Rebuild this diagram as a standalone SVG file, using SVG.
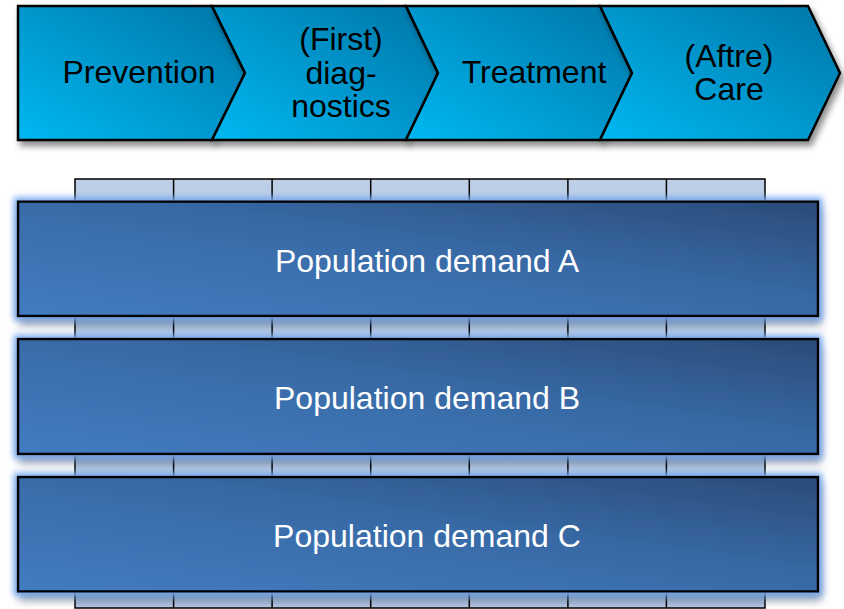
<svg xmlns="http://www.w3.org/2000/svg" width="844" height="609" viewBox="0 0 844 609">
  <defs>
    <linearGradient id="chevFill" x1="0" y1="1" x2="1" y2="0">
      <stop offset="0" stop-color="#00b8f2"/>
      <stop offset="1" stop-color="#0075a6"/>
    </linearGradient>
    <linearGradient id="barFill" x1="0" y1="1" x2="1" y2="0">
      <stop offset="0" stop-color="#437cc1"/>
      <stop offset="0.55" stop-color="#386aa6"/>
      <stop offset="1" stop-color="#2a4b79"/>
    </linearGradient>
    <linearGradient id="tabFill" x1="0" y1="0" x2="0" y2="1">
      <stop offset="0" stop-color="#bccfe6"/>
      <stop offset="1" stop-color="#b3c8e2"/>
    </linearGradient>
    <filter id="chevShadow" x="-10%" y="-10%" width="125%" height="130%">
      <feGaussianBlur in="SourceAlpha" stdDeviation="3"/>
      <feOffset dx="3" dy="5" result="ob"/>
      <feFlood flood-color="#000" flood-opacity="0.45"/>
      <feComposite in2="ob" operator="in" result="shadow"/>
      <feMerge>
        <feMergeNode in="shadow"/>
        <feMergeNode in="SourceGraphic"/>
      </feMerge>
    </filter>
    <filter id="barEffect" x="-5%" y="-25%" width="110%" height="160%">
      <feGaussianBlur in="SourceAlpha" stdDeviation="4"/>
      <feOffset dx="2" dy="7" result="ob"/>
      <feFlood flood-color="#1a2a40" flood-opacity="0.6"/>
      <feComposite in2="ob" operator="in" result="shadow"/>
      <feMorphology in="SourceAlpha" operator="dilate" radius="3" result="dil"/>
      <feGaussianBlur in="dil" stdDeviation="3" result="gb"/>
      <feFlood flood-color="#78a8ee" flood-opacity="1"/>
      <feComposite in2="gb" operator="in" result="glow"/>
      <feMerge>
        <feMergeNode in="shadow"/>
        <feMergeNode in="glow"/>
        <feMergeNode in="SourceGraphic"/>
      </feMerge>
    </filter>
  </defs>
  <style>
    .chev { fill: url(#chevFill); stroke: #000; stroke-width: 2.5; stroke-linejoin: miter; }
    .chevText { font-family: "Liberation Sans", Arial, sans-serif; font-size: 32px; fill: #000; text-anchor: middle; }
    .bar { fill: url(#barFill); stroke: #000; stroke-width: 2.5; }
    .barText { font-family: "Liberation Sans", Arial, sans-serif; font-size: 32px; fill: #fff; text-anchor: middle; }
    .tab { fill: url(#tabFill); stroke: #000; stroke-width: 1.5; }
    .tabLine { stroke: #000; stroke-width: 1.5; }
  </style>

  <rect width="844" height="609" fill="#fff"/>

  <!-- column strip behind the demand bars -->
  <g id="columns">
    <rect class="tab" x="75" y="179" width="690" height="429"/>
    <line class="tabLine" x1="173.6" y1="179" x2="173.6" y2="608"/>
    <line class="tabLine" x1="272.1" y1="179" x2="272.1" y2="608"/>
    <line class="tabLine" x1="370.7" y1="179" x2="370.7" y2="608"/>
    <line class="tabLine" x1="469.3" y1="179" x2="469.3" y2="608"/>
    <line class="tabLine" x1="567.9" y1="179" x2="567.9" y2="608"/>
    <line class="tabLine" x1="666.4" y1="179" x2="666.4" y2="608"/>
  </g>

  <!-- process chevrons -->
  <g id="prevention">
    <path class="chev" filter="url(#chevShadow)" d="M18,6 L212,6 L245,73 L212,140 L18,140 Z"/>
    <text class="chevText" x="139" y="83">Prevention</text>
  </g>
  <g id="diagnostics">
    <path class="chev" filter="url(#chevShadow)" d="M212,6 L406,6 L438,73 L406,140 L212,140 L245,73 Z"/>
    <text class="chevText" x="341" y="50">(First)</text>
    <text class="chevText" x="341" y="84">diag-</text>
    <text class="chevText" x="341" y="117">nostics</text>
  </g>
  <g id="treatment">
    <path class="chev" filter="url(#chevShadow)" d="M406,6 L600,6 L632,73 L600,140 L406,140 L438,73 Z"/>
    <text class="chevText" x="534" y="83">Treatment</text>
  </g>
  <g id="aftercare">
    <path class="chev" filter="url(#chevShadow)" d="M600,6 L808,6 L840,73 L808,140 L600,140 L632,73 Z"/>
    <text class="chevText" x="729" y="67">(Aftre)</text>
    <text class="chevText" x="729" y="100">Care</text>
  </g>

  <!-- population demand bars -->
  <g id="demandA">
    <rect class="bar" filter="url(#barEffect)" x="18" y="201.5" width="800" height="114.5"/>
    <text class="barText" x="427" y="272">Population demand A</text>
  </g>
  <g id="demandB">
    <rect class="bar" filter="url(#barEffect)" x="18" y="339" width="800" height="115"/>
    <text class="barText" x="427" y="409">Population demand B</text>
  </g>
  <g id="demandC">
    <rect class="bar" filter="url(#barEffect)" x="18" y="477" width="800" height="114.5"/>
    <text class="barText" x="427" y="547">Population demand C</text>
  </g>
</svg>
